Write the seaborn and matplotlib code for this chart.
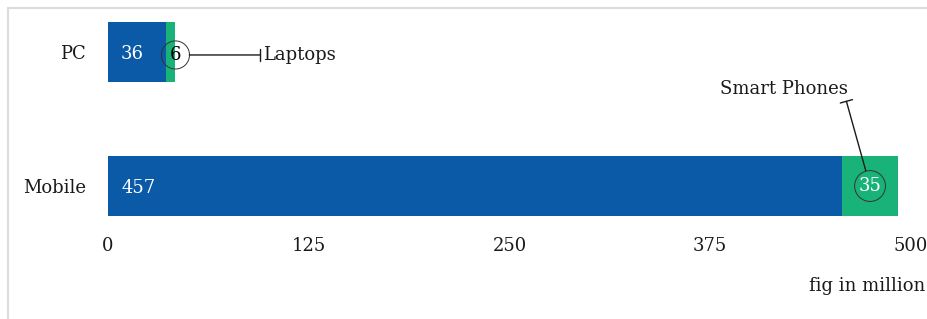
import matplotlib
matplotlib.use("Agg")
import matplotlib.pyplot as plt
from matplotlib.lines import Line2D
from matplotlib.transforms import offset_copy
import seaborn as sns
import pandas as pd

categories = ["PC", "Mobile"]
main_values = [36, 457]          # PC / Mobile (blue)
sub_values = [6, 35]             # Laptops / Smart Phones (green)
sub_names = ["Laptops", "Smart Phones"]
xticks = [0, 125, 250, 375, 500]
axis_note = "fig in million"

BLUE = "#0b5aa8"
GREEN = "#19b37a"
FONT = "DejaVu Serif"
FS = 13

sns.set_theme(style="white")
plt.rcParams["font.family"] = [FONT]

df = pd.DataFrame({
    "category": categories,
    "main": main_values,
    "sub": sub_values,
})
df["total"] = df["main"] + df["sub"]

fig = plt.figure(figsize=(9.27, 3.19), dpi=100)
ax = fig.add_axes([108 / 927, 1 - 230 / 319, 803 / 927, 222 / 319])

sns.barplot(data=df, x="total", y="category", color=GREEN, width=0.45,
            saturation=1, ax=ax, orient="h", linewidth=0)
sns.barplot(data=df, x="main", y="category", color=BLUE, width=0.45,
            saturation=1, ax=ax, orient="h", linewidth=0)

ax.set_xlim(0, 500)
ax.set_ylim(1.328, -0.328)
ax.set_xticks(xticks)
ax.set_xticklabels([str(t) for t in xticks])
ax.set_xlabel("")
ax.set_ylabel("")
for s in ax.spines.values():
    s.set_visible(False)
ax.tick_params(axis="x", length=0, pad=5, labelsize=FS, labelcolor="#1a1a1a")
ax.tick_params(axis="y", length=0, pad=16, labelsize=FS, labelcolor="#1a1a1a")

# main value labels (inside, at bar start)
for i, v in enumerate(df["main"]):
    ax.annotate(str(v), xy=(0, i), xytext=(13, 0), textcoords="offset pixels",
                ha="left", va="center_baseline", color="white", fontsize=FS)

# PC sub value: circle at end of bar (slightly below centre), black text
pc_total = df["total"][0]
lowered = offset_copy(ax.transData, fig=fig, x=0, y=-3, units="dots")
ax.annotate(str(df["sub"][0]), xy=(pc_total, 0), xycoords=lowered,
            ha="center", va="center", color="black", fontsize=FS,
            bbox=dict(boxstyle="circle,pad=0.28", fc="none", ec="#333333", lw=0.7))
ax.annotate(sub_names[0], xy=(pc_total, 0), xycoords=lowered, xytext=(88, 0),
            textcoords="offset pixels", ha="left", va="center",
            fontsize=FS, color="#1a1a1a",
            arrowprops=dict(arrowstyle="]-, widthA=0.35, lengthA=0",
                            color="#1a1a1a", lw=1, relpos=(0, 0.5),
                            shrinkA=0, shrinkB=10))

# Mobile sub value: circle centered in green segment, white text
mob_center = df["main"][1] + df["sub"][1] / 2
ax.annotate(str(df["sub"][1]), xy=(mob_center, 1), ha="center", va="center",
            color="white", fontsize=FS,
            bbox=dict(boxstyle="circle,pad=0.22", fc="none", ec="#333333", lw=0.7))
ax.annotate(sub_names[1], xy=(mob_center, 1), xytext=(-22, 97),
            textcoords="offset pixels", ha="right", va="center",
            fontsize=FS, color="#1a1a1a",
            arrowprops=dict(arrowstyle="]-, widthA=0.35, lengthA=0",
                            color="#1a1a1a", lw=1, relpos=(0.98, 0),
                            shrinkA=0, shrinkB=11.5))

fig.text(925 / 927, 1 - 286 / 319, axis_note, ha="right", va="center",
         fontsize=FS, color="#1a1a1a")

# light frame lines (top and left)
fig.add_artist(Line2D([8 / 927, 1], [1 - 8 / 319, 1 - 8 / 319],
                      transform=fig.transFigure, color="#dcdcdc", lw=1.5))
fig.add_artist(Line2D([8 / 927, 8 / 927], [0, 1 - 8 / 319],
                      transform=fig.transFigure, color="#dcdcdc", lw=1.5))

fig.savefig("out.png", dpi=100)
